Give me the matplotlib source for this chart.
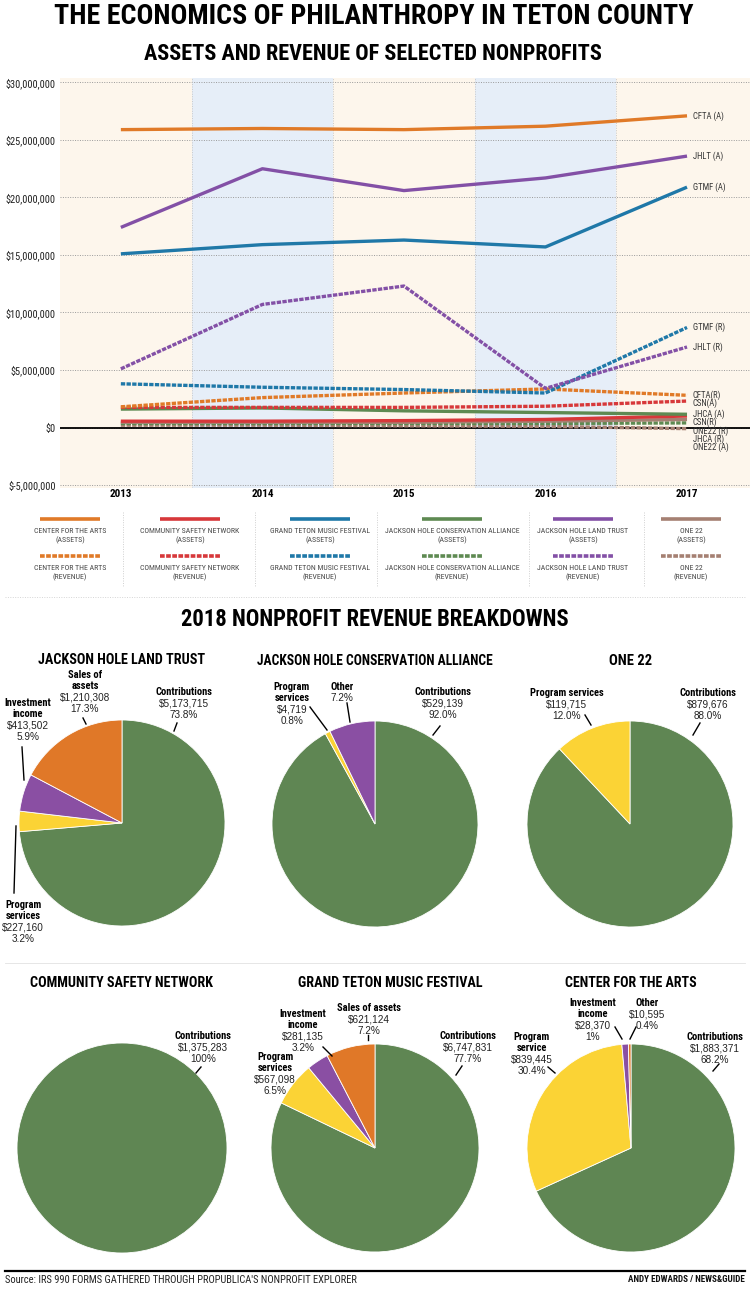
import os
import matplotlib
matplotlib.use("Agg")
import matplotlib.pyplot as plt
from matplotlib.lines import Line2D
from matplotlib import font_manager as fm
from matplotlib.font_manager import FontProperties

# ---------------------------------------------------------------- data
years = [2013, 2014, 2015, 2016, 2017]

# line chart values, in millions of dollars
cfta_assets = [25.9, 26.0, 25.9, 26.2, 27.1]
jhlt_assets = [17.4, 22.5, 20.6, 21.7, 23.6]
gtmf_assets = [15.1, 15.9, 16.3, 15.7, 20.9]
jhlt_revenue = [5.1, 10.7, 12.3, 3.4, 7.0]
gtmf_revenue = [3.8, 3.5, 3.3, 3.0, 8.7]
cfta_revenue = [1.8, 2.6, 3.0, 3.35, 2.8]
csn_a_line = [1.75, 1.75, 1.75, 1.85, 2.3]
jhca_assets = [1.6, 1.7, 1.45, 1.3, 1.15]
csn_r_line = [0.55, 0.55, 0.6, 0.7, 1.0]
one22_r_line = [0.45, 0.45, 0.45, 0.55, 0.7]
jhca_revenue = [0.35, 0.35, 0.35, 0.35, 0.4]
one22_a_line = [0.2, 0.2, 0.15, 0.1, -0.1]

end_labels = ["CFTA (A)", "JHLT (A)", "GTMF (A)", "JHLT (R)", "GTMF (R)", "CFTA(R)",
              "CSN(A)", "JHCA (A)", "CSN(R)", "ONE22 (R)", "JHCA (R)", "ONE22 (A)"]
y_ticks = [-5, 0, 5, 10, 15, 20, 25, 30]

legend_orgs = ["CENTER FOR THE ARTS", "COMMUNITY SAFETY NETWORK", "GRAND TETON MUSIC FESTIVAL",
               "JACKSON HOLE CONSERVATION ALLIANCE", "JACKSON HOLE LAND TRUST", "ONE 22"]

pie_titles = ["JACKSON HOLE LAND TRUST", "JACKSON HOLE CONSERVATION ALLIANCE", "ONE 22",
              "COMMUNITY SAFETY NETWORK", "GRAND TETON MUSIC FESTIVAL", "CENTER FOR THE ARTS"]

jhlt_cats = ["Contributions", "Program\nservices", "Investment\nincome", "Sales of\nassets"]
jhlt_amounts = ["$5,173,715", "$227,160", "$413,502", "$1,210,308"]
jhlt_shares = [73.8, 3.2, 5.9, 17.3]
jhlt_share_text = ["73.8%", "3.2%", "5.9%", "17.3%"]

jhca_cats = ["Contributions", "Program\nservices", "Other"]
jhca_amounts = ["$529,139", "$4,719", None]
jhca_shares = [92.0, 0.8, 7.2]
jhca_share_text = ["92.0%", "0.8%", "7.2%"]

one22_cats = ["Contributions", "Program services"]
one22_amounts = ["$879,676", "$119,715"]
one22_shares = [88.0, 12.0]
one22_share_text = ["88.0%", "12.0%"]

csn_cats = ["Contributions"]
csn_amounts = ["$1,375,283"]
csn_shares = [100.0]
csn_share_text = ["100%"]

gtmf_cats = ["Contributions", "Program\nservices", "Investment\nincome", "Sales of assets"]
gtmf_amounts = ["$6,747,831", "$567,098", "$281,135", "$621,124"]
gtmf_shares = [77.7, 6.5, 3.2, 7.2]
gtmf_share_text = ["77.7%", "6.5%", "3.2%", "7.2%"]

cfta_cats = ["Contributions", "Program\nservice", "Investment\nincome", "Other"]
cfta_amounts = ["$1,883,371", "$839,445", "$28,370", "$10,595"]
cfta_shares = [68.2, 30.4, 1.0, 0.4]
cfta_share_text = ["68.2%", "30.4%", "1%", "0.4%"]

# ---------------------------------------------------------------- styles
ORANGE, RED, BLUE = "#e07a28", "#d7383a", "#1f78a8"
GREEN, PURPLE, BROWN = "#5e8a52", "#8350a6", "#a58072"
PIE_GREEN, PIE_YELLOW, PIE_PURPLE, PIE_ORANGE = "#5f8653", "#fbd335", "#8a4fa3", "#e07828"
CREAM, LBLUE = "#fdf6ec", "#e6eef8"
DASH = (0, (1.3, 0.4))

W, H = 750, 1291
fig = plt.figure(figsize=(W / 100, H / 100), dpi=100)
fig.patch.set_facecolor("white")


def fx(x):
    return x / W


def fy(y):
    return 1 - y / H


files = [f.fname for f in fm.fontManager.ttflist]


def pick(keys_list, family, weight):
    for keys in keys_list:
        for f in files:
            b = os.path.basename(f).lower()
            if all(k in b for k in keys) and "italic" not in b and "oblique" not in b:
                return FontProperties(fname=f)
    return FontProperties(family=family, weight=weight)


HEAVY = pick([("robotocondensed", "black"), ("robotocondensed", "extrabold"),
              ("robotocondensed", "bold"), ("opensans", "condensed", "extrabold"),
              ("dejavusanscondensed-bold",), ("liberationsansnarrow-bold",)],
             "DejaVu Sans", "bold")
NARROW = pick([("liberationsansnarrow-regular",), ("robotocondensed-regular",),
               ("dejavusanscondensed.ttf",)], "Liberation Sans", "normal")
NARROW_B = pick([("liberationsansnarrow-bold",), ("robotocondensed-bold",),
                 ("dejavusanscondensed-bold",)], "Liberation Sans", "bold")
REG = FontProperties(family="Liberation Sans", weight="normal")


def txt(x, y, s, fp, size, **kw):
    p = fp.copy()
    p.set_size(size)
    kw.setdefault("ha", "center")
    kw.setdefault("va", "center")
    return fig.text(fx(x), fy(y), s, fontproperties=p, **kw)


def fit(t, width):
    r = fig.canvas.get_renderer()
    bb = t.get_window_extent(r)
    t.set_fontsize(t.get_fontsize() * width / bb.width)


def fline(x1, y1, x2, y2, **kw):
    fig.add_artist(Line2D([fx(x1), fx(x2)], [fy(y1), fy(y2)], **kw))


# ---------------------------------------------------------------- titles
fit(txt(374, 17, "THE ECONOMICS OF PHILANTHROPY IN TETON COUNTY", HEAVY, 20), 638)
fit(txt(373, 54, "ASSETS AND REVENUE OF SELECTED NONPROFITS", HEAVY, 14), 460)

# ---------------------------------------------------------------- line chart
ax = fig.add_axes([fx(60), fy(488), (W - 60) / W, (488 - 78) / H])
ax.set_xlim(2012.57, 2017.445)
ax.set_ylim(-5.26e6, 30.39e6)
for i, yr in enumerate(years):
    ax.axvspan(yr - 0.5, yr + 0.5, color=CREAM if i % 2 == 0 else LBLUE, lw=0, zorder=0)
for yr in years[:-1]:
    ax.axvline(yr + 0.5, color="#c9c9c9", ls=(0, (1, 1.5)), lw=0.7, zorder=1)
for s in ax.spines.values():
    s.set_visible(False)
ax.set_yticks([v * 1e6 for v in y_ticks])
ax.set_yticklabels([f"${v * 1e6:,.0f}" for v in y_ticks])
ax.set_xticks(years)
ax.set_xticklabels([str(y) for y in years])
ax.tick_params(length=0, pad=1)
ax.tick_params(axis="y", pad=3)
for lab in ax.get_yticklabels():
    p = NARROW.copy(); p.set_size(7.5)
    lab.set_fontproperties(p); lab.set_color("#222")
for lab in ax.get_xticklabels():
    p = HEAVY.copy(); p.set_size(8)
    lab.set_fontproperties(p)
ax.yaxis.grid(True, ls=(0, (1, 1.5)), color="#9a9a9a", lw=0.7, zorder=1)
ax.set_axisbelow(True)
ax.axhline(0, color="black", lw=1.3, zorder=2)

series = [
    (cfta_assets, ORANGE, False), (jhlt_assets, PURPLE, False), (gtmf_assets, BLUE, False),
    (jhlt_revenue, PURPLE, True), (gtmf_revenue, BLUE, True), (cfta_revenue, ORANGE, True),
    (csn_a_line, RED, True), (jhca_assets, GREEN, False), (csn_r_line, RED, False),
    (one22_r_line, BROWN, False), (jhca_revenue, GREEN, True), (one22_a_line, BROWN, True),
]
for vals, col, dashed in reversed(series):
    ax.plot(years, [v * 1e6 for v in vals], color=col, lw=2.4,
            ls=DASH if dashed else "-", solid_capstyle="butt", zorder=3)

# end labels with simple de-overlap
px_per_unit = ax.transData.transform((0, 1e6))[1] - ax.transData.transform((0, 0))[1]
gap = 8.3 / px_per_unit * 1e6
order = sorted(range(len(series)), key=lambda i: -series[i][0][-1])
prev = None
for i in order:
    yv = series[i][0][-1] * 1e6
    if prev is not None and yv > prev - gap:
        yv = prev - gap
    prev = yv
    p = NARROW.copy(); p.set_size(6.2)
    ax.text(2017.04, yv, end_labels[i], fontproperties=p, color="#333",
            va="center", ha="left", zorder=5, clip_on=False)

# ---------------------------------------------------------------- legend
org_colors = [ORANGE, RED, BLUE, GREEN, PURPLE, BROWN]
leg_cx = [70, 190, 320, 452, 583, 691]
for name, col, cx in zip(legend_orgs, org_colors, leg_cx):
    fline(cx - 30, 519, cx + 30, 519, color=col, lw=2.6, solid_capstyle="butt")
    fline(cx - 30, 556, cx + 30, 556, color=col, lw=2.6, ls=DASH)
    txt(cx, 536, name + "\n(ASSETS)", NARROW, 5.6, color="#444", linespacing=1.45)
    txt(cx, 573, name + "\n(REVENUE)", NARROW, 5.6, color="#444", linespacing=1.45)
for sx in [123, 255, 377, 529, 644]:
    fline(sx, 512, sx, 586, color="#cfcfcf", lw=0.7, ls=(0, (1, 1.5)))
fline(5, 597, 745, 597, color="#d5d5d5", lw=0.7, ls=(0, (1, 1.5)))

# ---------------------------------------------------------------- pies
fit(txt(375, 620, "2018 NONPROFIT REVENUE BREAKDOWNS", HEAVY, 13), 387)

pies = [
    (jhlt_cats, jhlt_amounts, jhlt_shares, jhlt_share_text),
    (jhca_cats, jhca_amounts, jhca_shares, jhca_share_text),
    (one22_cats, one22_amounts, one22_shares, one22_share_text),
    (csn_cats, csn_amounts, csn_shares, csn_share_text),
    (gtmf_cats, gtmf_amounts, gtmf_shares, gtmf_share_text),
    (cfta_cats, cfta_amounts, cfta_shares, cfta_share_text),
]
pie_colors = [
    [PIE_GREEN, PIE_YELLOW, PIE_PURPLE, PIE_ORANGE],
    [PIE_GREEN, PIE_YELLOW, PIE_PURPLE],
    [PIE_GREEN, PIE_YELLOW],
    [PIE_GREEN],
    [PIE_GREEN, PIE_YELLOW, PIE_PURPLE, PIE_ORANGE],
    [PIE_GREEN, PIE_YELLOW, PIE_PURPLE, PIE_ORANGE],
]
pie_centers = [(122, 823, 103), (375, 824, 103), (630, 824, 103),
               (122, 1148, 105), (375, 1148, 104), (631, 1148, 104)]
title_pos = [(122, 660, 166), (375, 661, 236), (631, 661, 43),
             (122, 983, 183), (390, 983, 184), (631, 983, 132)]
# (label x centre, first line y, pointer segment or None)
label_pos = [
    [(184, 692, (177, 723, 174, 731)), (23, 905, (16, 826, 14, 893)),
     (28, 703, (22, 747, 24, 780)), (85, 675, (83, 718, 86, 724))],
    [(443, 692, (440, 726, 433, 735)), (292, 687, (310, 707, 327, 730)),
     (342, 687, (347, 703, 350, 722))],
    [(708, 693, (700, 723, 693, 735)), (567, 693, (585, 715, 591, 725))],
    [(203, 1036, (201, 1067, 196, 1073))],
    [(468, 1036, (462, 1066, 456, 1075)), (275, 1057, None),
     (303, 1014, (323, 1047, 332, 1056)), (369, 1008, (368, 1035, 368, 1040))],
    [(715, 1037, (719, 1064, 713, 1071)), (532, 1037, (548, 1067, 555, 1073)),
     (593, 1003, (615, 1027, 622, 1039)), (647, 1003, (636, 1027, 630, 1039))],
]
LH = 11.3
for idx, ((cats, amts, shares, stext), cols, (cx, cy, r), (tx, ty, tw), lpos) in enumerate(zip(
        pies, pie_colors, pie_centers, title_pos, label_pos)):
    pax = fig.add_axes([fx(cx - r), fy(cy + r), 2 * r / W, 2 * r / H])
    pax.pie(shares, colors=cols, startangle=90, counterclock=False,
            wedgeprops=dict(edgecolor="white", linewidth=0.6))
    pax.set_xlim(-1, 1)
    pax.set_ylim(-1, 1)
    pax.axis("off")
    fit(txt(tx, ty, pie_titles[idx], HEAVY, 10), tw)
    for cat, amt, st, (lx, ly, ptr) in zip(cats, amts, stext, lpos):
        lines = [(c, True) for c in cat.split("\n")]
        if amt is not None:
            lines.append((amt, False))
        lines.append((st, False))
        for k, (s, bold) in enumerate(lines):
            if bold:
                txt(lx, ly + k * LH, s, HEAVY, 7.6, color="black")
            else:
                txt(lx, ly + k * LH, s, REG, 7.2, color="#222")
        if ptr is not None:
            fline(ptr[0], ptr[1], ptr[2], ptr[3], color="black", lw=1.0)

fline(5, 963, 745, 963, color="#e2e2e2", lw=0.6)

# ---------------------------------------------------------------- footer
fline(5, 1271, 745, 1271, color="black", lw=1.6)
txt(5, 1280, "Source: IRS 990 FORMS GATHERED THROUGH PROPUBLICA'S NONPROFIT EXPLORER",
    NARROW, 7.6, ha="left", color="#222")
txt(745, 1280, "ANDY EDWARDS / NEWS&GUIDE", NARROW_B, 6.6, ha="right", color="#111")

fig.savefig("out.png", dpi=100, facecolor="white")
